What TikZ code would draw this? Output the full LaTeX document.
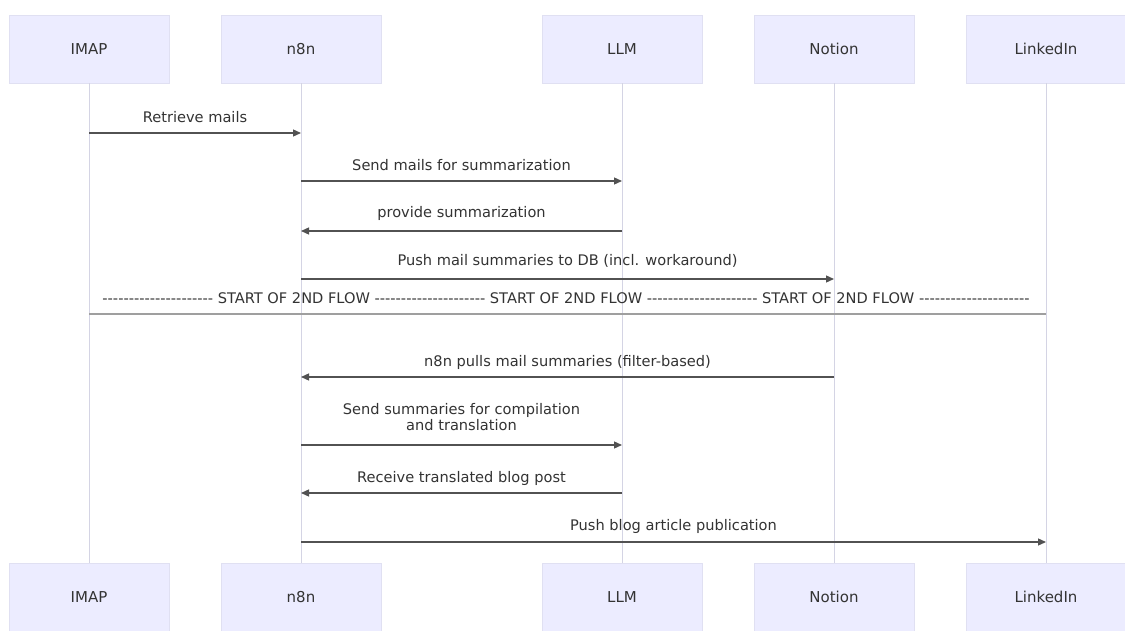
\documentclass[tikz,border=0pt]{standalone}
\usepackage{fontspec}
\setmainfont{DejaVu Sans}
\usetikzlibrary{arrows.meta}
\definecolor{boxfill}{HTML}{ECECFF}
\definecolor{boxline}{HTML}{E0E0F2}
\definecolor{lifeln}{HTML}{D4D4E4}
\definecolor{ink}{HTML}{333333}
\tikzset{
  actor/.style={draw=boxline, line width=0.8pt, fill=boxfill, minimum width=160pt, minimum height=68pt, inner sep=0pt, text=ink, font=\fontsize{15}{17}\selectfont},
  life/.style={draw=lifeln, line width=0.9pt},
  msg/.style={draw=ink!85, line width=1.3pt, -{Triangle[length=8pt,width=7pt]}},
  lbl/.style={text=ink, font=\fontsize{14.6}{16.5}\selectfont, inner sep=0pt, align=center},
  divline/.style={draw=gray!75, line width=2pt}
}
\newcommand{\dsh}{-{}-{}-{}-{}-{}-{}-{}-{}-{}-{}-{}-{}-{}-{}-{}-{}-{}-{}-{}-{}-}
\begin{document}
\begin{tikzpicture}[x=1pt,y=-1pt]
\useasboundingbox (0,0) rectangle (1125,631);
\fill[white] (0,0) rectangle (1125,631);
% top actors
\node[actor] (imapT) at (89,49) {IMAP};
\node[actor] (n8nT) at (301,49) {n8n};
\node[actor] (llmT) at (622,49) {LLM};
\node[actor] (notT) at (834,49) {Notion};
\node[actor] (linT) at (1046,49) {LinkedIn};
% bottom actors
\node[actor] (imapB) at (89,597) {IMAP};
\node[actor] (n8nB) at (301,597) {n8n};
\node[actor] (llmB) at (622,597) {LLM};
\node[actor] (notB) at (834,597) {Notion};
\node[actor] (linB) at (1046,597) {LinkedIn};
% lifelines
\draw[life] (imapT) -- (imapB);
\draw[life] (n8nT) -- (n8nB);
\draw[life] (llmT) -- (llmB);
\draw[life] (notT) -- (notB);
\draw[life] (linT) -- (linB);
% messages
\draw[msg] (imapT |- 0,133) -- (n8nT |- 0,133);
\node[lbl] (t1) at (195,117) {Retrieve mails};
\draw[msg] (n8nT |- 0,181) -- (llmT |- 0,181);
\node[lbl] (t2) at (461.5,165) {Send mails for summarization};
\draw[msg] (llmT |- 0,231) -- (n8nT |- 0,231);
\node[lbl] (t3) at (461.5,213) {provide summarization};
\draw[msg] (n8nT |- 0,279) -- (notT |- 0,279);
\node[lbl] (t4) at (567.5,261) {Push mail summaries to DB (incl. workaround)};
% divider
\draw[divline] (imapT |- 0,314) -- (linT |- 0,314);
\node[lbl] (t5) at (566,298) {\dsh\ START OF 2ND FLOW \dsh\ START OF 2ND FLOW \dsh\ START OF 2ND FLOW \dsh};
% second flow
\draw[msg] (notT |- 0,377) -- (n8nT |- 0,377);
\node[lbl] (t6) at (567.5,362) {n8n pulls mail summaries (filter-based)};
\draw[msg] (n8nT |- 0,445) -- (llmT |- 0,445);
\node[lbl] (t7) at (461.5,417) {Send summaries for compilation\\and translation};
\draw[msg] (llmT |- 0,493) -- (n8nT |- 0,493);
\node[lbl] (t8) at (461.5,478) {Receive translated blog post};
\draw[msg] (n8nT |- 0,542) -- (linT |- 0,542);
\node[lbl] (t9) at (673.5,526) {Push blog article publication};
\end{tikzpicture}
\end{document}
